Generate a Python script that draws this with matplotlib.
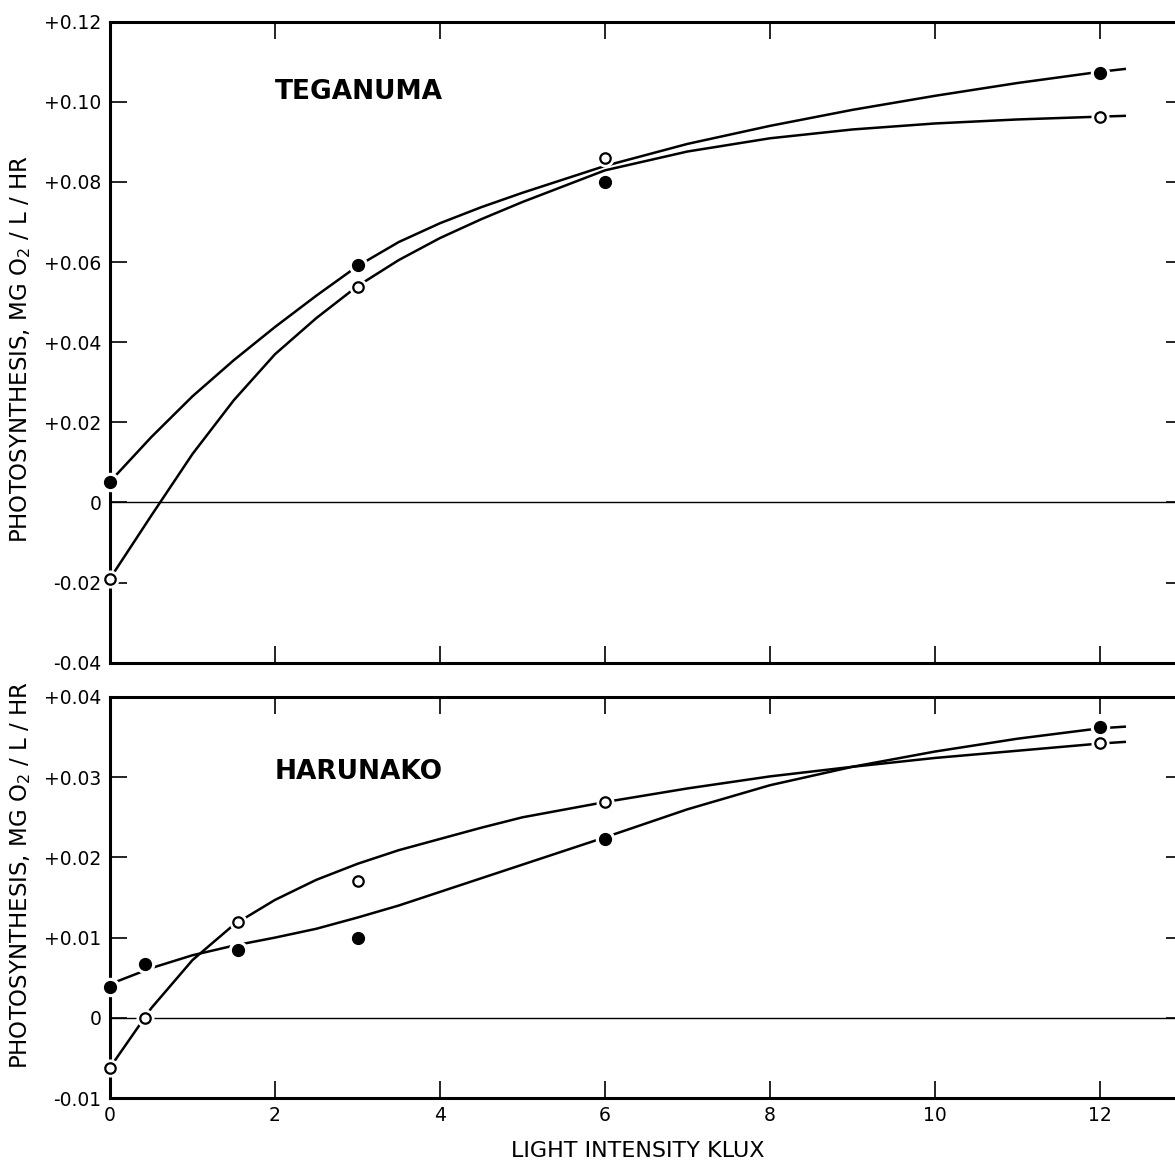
import matplotlib
matplotlib.use("Agg")
import matplotlib.pyplot as plt

plt.rcParams['font.family'] = ['DejaVu Sans']
plt.rcParams['mathtext.fontset'] = 'dejavusans'

# ---------------- data: TEGANUMA ----------------
teg_x = [0, 3, 6, 12]
teg_filled = [0.0052, 0.0593, 0.0800, 0.1072]
teg_open = [-0.0190, 0.0538, 0.0861, 0.0963]
# hand-drawn curves
teg_curve_x = [0, 0.5, 1, 1.5, 2, 2.5, 3, 3.5, 4, 4.5, 5, 6, 7, 8, 9, 10, 11, 12, 12.3]
teg_curve_filled = [0.0052, 0.0163, 0.0265, 0.0355, 0.0438, 0.0516, 0.0590, 0.0650, 0.0697,
                    0.0737, 0.0773, 0.0840, 0.0895, 0.0940, 0.0980, 0.1015, 0.1047, 0.1075, 0.1082]
teg_curve_open = [-0.0190, -0.0033, 0.0121, 0.0255, 0.0370, 0.0460, 0.0540, 0.0605, 0.0660,
                  0.0707, 0.0750, 0.0829, 0.0876, 0.0909, 0.0931, 0.0946, 0.0956, 0.0963, 0.0965]

# ---------------- data: HARUNAKO ----------------
har_x = [0, 0.43, 1.55, 3, 6, 12]
har_filled = [0.0039, 0.0067, 0.0085, 0.0100, 0.0223, 0.0362]
har_open = [-0.0062, 0.0000, 0.0119, 0.0171, 0.0269, 0.0343]
har_curve_x = [0, 0.5, 1, 1.5, 2, 2.5, 3, 3.5, 4, 4.5, 5, 6, 7, 8, 9, 10, 11, 12, 12.3]
har_curve_filled = [0.0042, 0.0062, 0.0078, 0.0090, 0.0100, 0.0111, 0.0125, 0.0140, 0.0157,
                    0.0174, 0.0191, 0.0225, 0.0260, 0.0290, 0.0313, 0.0332, 0.0348, 0.0361, 0.0363]
har_curve_open = [-0.0062, 0.0012, 0.0072, 0.0116, 0.0147, 0.0172, 0.0192, 0.0209, 0.0223,
                  0.0237, 0.0250, 0.0269, 0.0286, 0.0301, 0.0313, 0.0324, 0.0333, 0.0342, 0.0344]

x_ticks = [0, 2, 4, 6, 8, 10, 12]
x_ticklabels = ["0", "2", "4", "6", "8", "10", "12"]
teg_yticks = [-0.04, -0.02, 0, 0.02, 0.04, 0.06, 0.08, 0.10, 0.12]
teg_yticklabels = ["-0.04", "-0.02", "0", "+0.02", "+0.04", "+0.06", "+0.08", "+0.10", "+0.12"]
har_yticks = [-0.01, 0, 0.01, 0.02, 0.03, 0.04]
har_yticklabels = ["-0.01", "0", "+0.01", "+0.02", "+0.03", "+0.04"]

W, H = 1175, 1164
fig = plt.figure(figsize=(W / 100, H / 100), dpi=100)

ax1 = fig.add_axes([110 / W, 1 - 662.7 / H, 1072.5 / W, 641.0 / H])
ax2 = fig.add_axes([110 / W, 1 - 1098 / H, 1072.5 / W, 401.0 / H])


def draw(ax, px, pf, po, cx, cf, co, yticks, yticklabels, ylim, name, name_y):
    ax.axhline(0, color='black', lw=1.0, zorder=1)
    ax.plot(cx, cf, color='black', lw=1.8, zorder=2, clip_on=False, solid_joinstyle='round')
    ax.plot(cx, co, color='black', lw=1.8, zorder=2, clip_on=False, solid_joinstyle='round')
    # white halos to break the line around the points
    ax.plot(px, pf, 'o', ms=13, color='white', mec='white', zorder=3, clip_on=False)
    ax.plot(px, po, 'o', ms=12, color='white', mec='white', zorder=3, clip_on=False)
    ax.plot(px, pf, 'o', ms=8.5, color='black', mec='black', zorder=4, clip_on=False)
    ax.plot(px, po, 'o', ms=7.5, mfc='white', mec='black', mew=1.6, zorder=4, clip_on=False)
    ax.set_xlim(0, 13)
    ax.set_ylim(*ylim)
    ax.set_xticks(x_ticks)
    ax.set_yticks(yticks)
    ax.set_yticklabels(yticklabels)
    ax.tick_params(direction='in', length=12, width=1.2, top=True, right=True,
                   labelsize=13.5, pad=6)
    for s in ax.spines.values():
        s.set_linewidth(2.2)
    ax.text(2.0, name_y, name, fontsize=19, fontweight='bold', va='center', ha='left')


draw(ax1, teg_x, teg_filled, teg_open, teg_curve_x, teg_curve_filled, teg_curve_open,
     teg_yticks, teg_yticklabels, (-0.04, 0.12), "TEGANUMA", 0.1025)
ax1.set_xticklabels([])

draw(ax2, har_x, har_filled, har_open, har_curve_x, har_curve_filled, har_curve_open,
     har_yticks, har_yticklabels, (-0.01, 0.04), "HARUNAKO", 0.0306)
ax2.set_xticklabels(x_ticklabels)

ylab = r"PHOTOSYNTHESIS, MG O$_2$ / L / HR"
fig.text(21 / W, 1 - 349 / H, ylab, rotation=90, fontsize=16.5, ha='center', va='center')
fig.text(21 / W, 1 - 875 / H, ylab, rotation=90, fontsize=16.5, ha='center', va='center')
fig.text(638 / W, 1 - 1151 / H, "LIGHT INTENSITY KLUX", fontsize=16, ha='center', va='center')

fig.savefig("out.png", dpi=100)
